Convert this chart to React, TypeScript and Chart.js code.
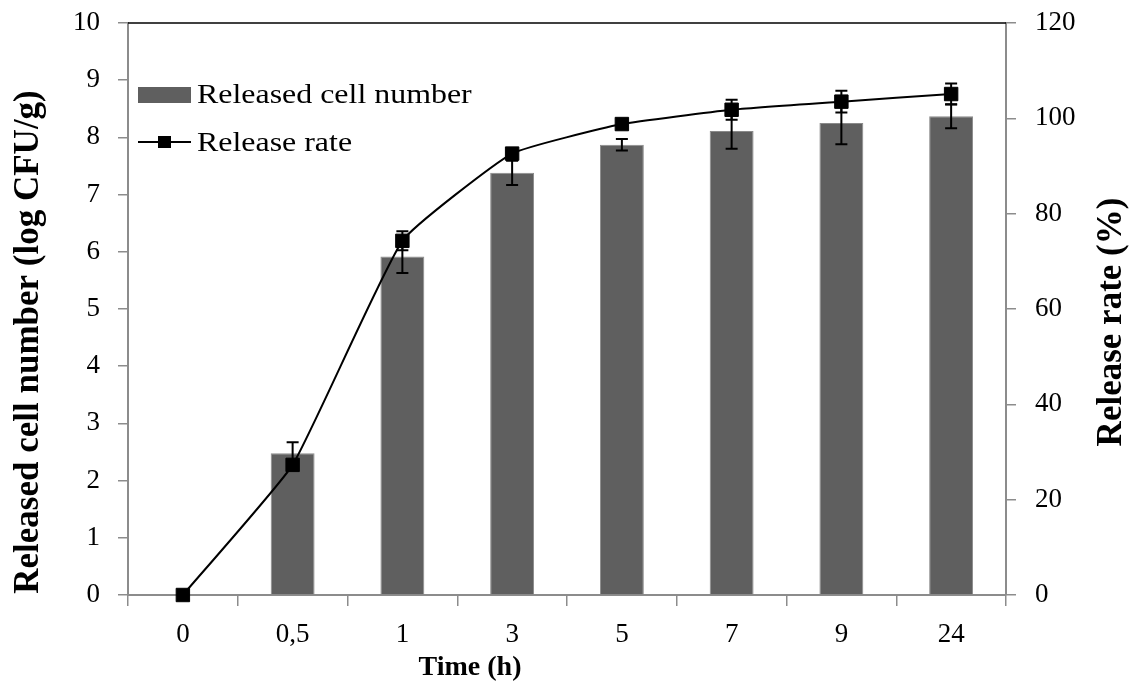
import React, { useEffect, useRef } from 'react';
import { Chart, registerables } from 'chart.js';

Chart.register(...registerables);

const categories = ['0', '0,5', '1', '3', '5', '7', '9', '24'];
const cellNumber = [0, 2.48, 5.92, 7.38, 7.87, 8.11, 8.25, 8.37];
const cellError = [0, 0.19, 0.29, 0.21, 0.1, 0.31, 0.37, 0.21];
const releaseRate = [0, 27.3, 74.3, 92.6, 98.8, 101.8, 103.5, 105.1];
const rateError = [0, 1.0, 2.0, 1.0, 0.8, 2.1, 2.3, 2.2];

const leftTicks = [0, 1, 2, 3, 4, 5, 6, 7, 8, 9, 10];
const rightTicks = [0, 20, 40, 60, 80, 100, 120];

const FONT = '"Liberation Serif", "Times New Roman", serif';
const BAR_COLOR = '#5f5f5f';
const AXIS_COLOR = '#8c8c8c';

const errorBarPlugin = {
  id: 'errorBars',
  afterDatasetsDraw(chart: any) {
    const ctx = chart.ctx;
    const x = chart.scales.x;
    const y = chart.scales.y;
    const y1 = chart.scales.y1;
    const cap = 6;
    ctx.save();
    ctx.strokeStyle = '#000';
    ctx.lineWidth = 2;
    const drawErr = (cx: number, top: number, bot: number) => {
      ctx.beginPath();
      ctx.moveTo(cx, top);
      ctx.lineTo(cx, bot);
      ctx.moveTo(cx - cap, top);
      ctx.lineTo(cx + cap, top);
      ctx.moveTo(cx - cap, bot);
      ctx.lineTo(cx + cap, bot);
      ctx.stroke();
    };
    categories.forEach((_, i) => {
      const cx = x.getPixelForValue(i);
      if (cellError[i] > 0) {
        drawErr(cx, y.getPixelForValue(cellNumber[i] + cellError[i]), y.getPixelForValue(cellNumber[i] - cellError[i]));
      }
      if (rateError[i] > 0) {
        drawErr(cx, y1.getPixelForValue(releaseRate[i] + rateError[i]), y1.getPixelForValue(releaseRate[i] - rateError[i]));
      }
    });
    ctx.restore();
  },
};

const decorPlugin = {
  id: 'decor',
  afterDraw(chart: any) {
    const ctx = chart.ctx;
    const a = chart.chartArea;
    ctx.save();
    // top frame line
    ctx.strokeStyle = '#000';
    ctx.lineWidth = 1.5;
    ctx.beginPath();
    ctx.moveTo(a.left, a.top);
    ctx.lineTo(a.right, a.top);
    ctx.stroke();

    // legend
    const lx = a.left + 10;
    ctx.fillStyle = BAR_COLOR;
    ctx.fillRect(lx, a.top + 64, 53, 16);
    ctx.fillStyle = '#000';
    ctx.font = `28px ${FONT}`;
    ctx.textBaseline = 'middle';
    ctx.textAlign = 'left';
    ctx.save();
    ctx.translate(lx + 59, a.top + 73);
    ctx.scale(1.14, 1);
    ctx.fillText('Released cell number', 0, 0);
    ctx.restore();
    ctx.strokeStyle = '#000';
    ctx.lineWidth = 2;
    ctx.beginPath();
    ctx.moveTo(lx, a.top + 119);
    ctx.lineTo(lx + 53, a.top + 119);
    ctx.stroke();
    ctx.fillRect(lx + 20, a.top + 113, 13, 12);
    ctx.save();
    ctx.translate(lx + 59, a.top + 121);
    ctx.scale(1.14, 1);
    ctx.fillText('Release rate', 0, 0);
    ctx.restore();

    // axis titles
    ctx.textAlign = 'center';
    ctx.textBaseline = 'middle';
    ctx.font = `bold 28px ${FONT}`;
    ctx.fillText('Time (h)', 470, 668);

    ctx.font = `bold 35px ${FONT}`;
    ctx.save();
    ctx.translate(29, 342);
    ctx.rotate(-Math.PI / 2);
    ctx.fillText('Released cell number (log CFU/g)', 0, 0);
    ctx.restore();

    ctx.save();
    ctx.translate(1112, 322);
    ctx.rotate(-Math.PI / 2);
    ctx.fillText('Release rate (%)', 0, 0);
    ctx.restore();

    ctx.restore();
  },
};

export default function App() {
  const canvasRef = useRef<HTMLCanvasElement | null>(null);

  useEffect(() => {
    document.body.style.margin = '0';
    const canvas = canvasRef.current;
    if (!canvas) return;
    const chart = new Chart(canvas, {
      type: 'bar',
      data: {
        labels: categories,
        datasets: [
          {
            type: 'line',
            label: 'Release rate',
            data: releaseRate,
            yAxisID: 'y1',
            borderColor: '#000',
            backgroundColor: '#000',
            borderWidth: 2,
            pointStyle: 'rect',
            pointRadius: 9.5,
            pointBorderWidth: 1,
            pointBackgroundColor: '#000',
            pointBorderColor: '#000',
            tension: 0.13,
            clip: false,
            order: 0,
          } as any,
          {
            type: 'bar',
            label: 'Released cell number',
            data: cellNumber,
            yAxisID: 'y',
            backgroundColor: BAR_COLOR,
            borderColor: '#8a8a8a',
            borderWidth: 1,
            barPercentage: 0.4,
            categoryPercentage: 1.0,
            order: 1,
          },
        ],
      },
      options: {
        responsive: false,
        animation: false,
        events: [],
        layout: { padding: { top: 23, left: 0, right: 0, bottom: 0 } },
        plugins: {
          legend: { display: false },
          tooltip: { enabled: false },
          title: { display: false },
        },
        scales: {
          x: {
            type: 'category',
            offset: true,
            grid: {
              display: true,
              offset: true,
              drawOnChartArea: false,
              drawTicks: true,
              tickLength: 11,
              color: AXIS_COLOR,
              lineWidth: 1.5,
            },
            border: { display: true, color: AXIS_COLOR, width: 2 },
            ticks: {
              color: '#000',
              font: { family: FONT, size: 27 },
              padding: 13,
              maxRotation: 0,
              autoSkip: false,
            },
            afterFit: (s: any) => {
              s.height = 93;
              s.paddingLeft = 0;
              s.paddingRight = 0;
            },
          },
          y: {
            type: 'linear',
            position: 'left',
            min: 0,
            max: 10,
            afterBuildTicks: (s: any) => {
              s.ticks = leftTicks.map((v) => ({ value: v }));
            },
            grid: {
              display: true,
              drawOnChartArea: false,
              drawTicks: true,
              tickLength: 10,
              color: AXIS_COLOR,
              lineWidth: 1.5,
            },
            border: { display: true, color: AXIS_COLOR, width: 2 },
            ticks: {
              color: '#000',
              font: { family: FONT, size: 27 },
              padding: 18,
            },
            afterFit: (s: any) => {
              s.width = 128;
              s.paddingTop = 0;
              s.paddingBottom = 0;
            },
          },
          y1: {
            type: 'linear',
            position: 'right',
            min: 0,
            max: 120,
            afterBuildTicks: (s: any) => {
              s.ticks = rightTicks.map((v) => ({ value: v }));
            },
            grid: {
              display: true,
              drawOnChartArea: false,
              drawTicks: true,
              tickLength: 10,
              color: AXIS_COLOR,
              lineWidth: 1.5,
            },
            border: { display: true, color: AXIS_COLOR, width: 2 },
            ticks: {
              color: '#000',
              font: { family: FONT, size: 27 },
              padding: 19,
            },
            afterFit: (s: any) => {
              s.width = 125;
              s.paddingTop = 0;
              s.paddingBottom = 0;
            },
          },
        },
      },
      plugins: [errorBarPlugin, decorPlugin],
    });
    return () => chart.destroy();
  }, []);

  return (
    <div style={{ width: 1131, height: 688, background: '#fff' }}>
      <canvas ref={canvasRef} width={1131} height={688} style={{ display: 'block' }} />
    </div>
  );
}
